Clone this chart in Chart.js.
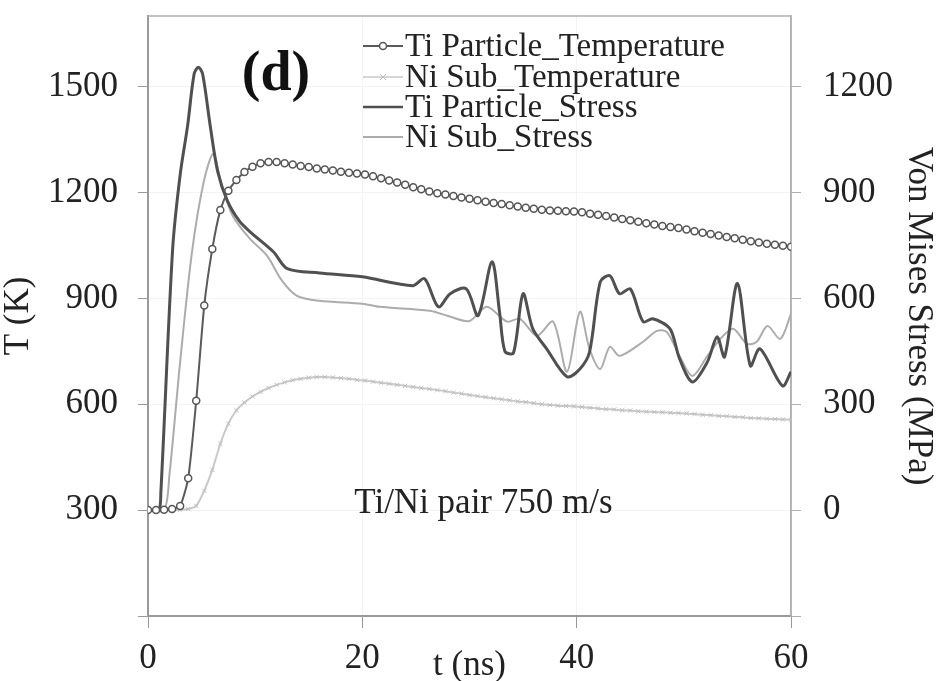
<!DOCTYPE html>
<html><head><meta charset="utf-8">
<script src="https://cdn.jsdelivr.net/npm/chart.js@4.4.1/dist/chart.umd.min.js"></script>
<style>html,body{margin:0;padding:0;background:#fff}#wrap{width:938px;height:681px}</style>
</head><body><div id="wrap"><canvas id="c" width="938" height="681"></canvas></div>
<script>
// ---- data ----
const tempT = [0,0.75,1.5,2.25,3,3.75,4.5,5.25,6,6.75,7.5,8.25,9,9.75,10.5,11.25,12,12.75,13.5,14.25,15,15.75,16.5,17.25,18,18.75,19.5,20.25,21,21.75,22.5,23.25,24,24.75,25.5,26.25,27,27.75,28.5,29.25,30,30.75,31.5,32.25,33,33.75,34.5,35.25,36,36.75,37.5,38.25,39,39.75,40.5,41.25,42,42.75,43.5,44.25,45,45.75,46.5,47.25,48,48.75,49.5,50.25,51,51.75,52.5,53.25,54,54.75,55.5,56.25,57,57.75,58.5,59.25,60];
const tiTemp = [300,300,301,303,312,390,610,880,1040,1150,1205,1235,1258,1273,1283,1286,1286,1283,1279,1275,1272,1268,1265,1262,1259,1256,1254,1251,1246,1240,1234,1228,1222,1215,1209,1203,1198,1194,1190,1186,1182,1178,1174,1170,1167,1164,1160,1157,1154,1151,1149,1148,1147,1146,1144,1140,1137,1133,1129,1125,1121,1117,1113,1109,1105,1102,1099,1095,1090,1086,1082,1078,1074,1070,1066,1062,1058,1055,1052,1049,1046];
const niTemp = [300,300,300,300,301,303,312,355,414,488,545,583,605,622,635,646,655,662,668,672,675,677,677,676,674,672,669,667,664,661,658,655,652,649,646,643,640,637,633,630,626,623,620,617,614,611,608,606,603,600,598,596,595,594,592,590,588,586,585,583,582,580,579,578,577,576,575,574,572,570,569,567,566,564,563,561,560,559,558,557,556];
const tiStressT = [0,1,1.2,2.3,3.0,3.7,4.3,4.7,5.1,5.8,6.5,7.4,8.5,9.5,11.7,13,16,20,24.7,25.8,27.1,28.2,29.7,30.8,32.1,32.8,33.3,34.1,35,35.9,37.2,39.1,40.3,41.2,42.2,43.1,44,45,46.2,47.1,48.7,49.6,50.8,52.2,53.1,53.8,55,56.2,57.1,59.2,60];
const tiStress  = [0,0,50,740,950,1090,1235,1255,1235,1090,960,877,820,789,732,684,672,661,636,656,576,613,627,551,704,562,450,445,613,514,457,378,400,448,647,664,613,627,534,542,514,429,363,420,491,434,642,409,457,352,392];
const niStressT = [0,1.5,2,3,4.1,5.2,6.1,6.8,7.9,9.5,11.1,12.5,13.9,16,20,21.6,26.3,28,30,31.6,33.5,34.7,36.3,37.8,39.1,40.3,41.2,42.2,43.1,44,46.2,47.5,48.4,49.6,50.8,52.2,53.4,54.6,55.9,56.8,57.8,59,60];
const niStress  = [0,0,100,420,730,930,1010,930,834,769,721,650,607,593,585,576,565,550,536,576,534,542,494,534,392,562,457,400,463,437,477,508,505,437,380,437,485,514,471,477,522,485,556];
const seriesNames = ['Ti Particle_Temperature','Ni Sub_Temperature','Ti Particle_Stress','Ni Sub_Stress'];
const xTicks = [0,20,40,60];
const leftTicks = [0,300,600,900,1200,1500];
const rightTicks = [-300,0,300,600,900,1200];
const panelLabel = '(d)';
const noteText = 'Ti/Ni pair 750 m/s';

const pts = (xs, ys) => xs.map((x, i) => ({x: x, y: ys[i]}));
const FONT = 'Liberation Serif';
const txt = '#222';
const noPad = s => { s.paddingTop = 0; s.paddingBottom = 0; s.paddingLeft = 0; s.paddingRight = 0; };

const framePlugin = {
  id: 'frame',
  beforeDatasetsDraw(chart) {
    const {ctx, chartArea: a} = chart;
    ctx.save();
    ctx.strokeStyle = '#b0b0b0';
    ctx.lineWidth = 1.5;
    ctx.beginPath();
    ctx.moveTo(a.left, a.top); ctx.lineTo(a.right, a.top); ctx.lineTo(a.right, a.bottom);
    ctx.stroke();
    ctx.restore();
  },
  afterDraw(chart) {
    const {ctx} = chart;
    const xs = chart.scales.x, yl = chart.scales.y;
    ctx.save();
    ctx.fillStyle = '#111';
    ctx.font = 'bold 56px "' + FONT + '"';
    ctx.textAlign = 'center'; ctx.textBaseline = 'middle';
    ctx.fillText(panelLabel, 276, 76);
    ctx.font = '35px "' + FONT + '"';
    ctx.fillStyle = txt;
    ctx.fillText(noteText, xs.getPixelForValue(31.3), yl.getPixelForValue(318));
    ctx.textAlign = 'left';
    const rows = [46, 77, 107, 137];
    chart.data.datasets.forEach((ds, i) => {
      const y = rows[i];
      ctx.strokeStyle = ds.borderColor;
      ctx.lineWidth = ds.legendWidth;
      ctx.beginPath(); ctx.moveTo(363, y); ctx.lineTo(403, y); ctx.stroke();
      if (ds.pointStyle === 'circle') {
        ctx.fillStyle = '#fff'; ctx.strokeStyle = ds.pointBorderColor; ctx.lineWidth = 1.5;
        ctx.beginPath(); ctx.arc(383, y, 3.5, 0, Math.PI * 2); ctx.fill(); ctx.stroke();
      } else if (ds.pointStyle === 'crossRot') {
        ctx.strokeStyle = ds.pointBorderColor; ctx.lineWidth = 1;
        ctx.beginPath(); ctx.moveTo(380, y-3); ctx.lineTo(386, y+3); ctx.moveTo(386, y-3); ctx.lineTo(380, y+3); ctx.stroke();
      }
      ctx.fillStyle = txt;
      ctx.font = '33px "' + FONT + '"';
      ctx.fillText(ds.label, 405, y + 1);
    });
    ctx.restore();
  }
};

new Chart(document.getElementById('c'), {
  type: 'line',
  data: {
    datasets: [
      { label: seriesNames[0], data: pts(tempT, tiTemp), yAxisID: 'y', borderColor: '#5a5a5a', borderWidth: 2, legendWidth: 2,
        pointStyle: 'circle', pointRadius: 3.5, pointBackgroundColor: '#fff', pointBorderColor: '#555', pointBorderWidth: 1.5, tension: 0.2 },
      { label: seriesNames[1], data: pts(tempT, niTemp), yAxisID: 'y', borderColor: '#c8c8c8', borderWidth: 2, legendWidth: 1.5,
        pointStyle: 'crossRot', pointRadius: 3, pointBorderColor: '#bdbdbd', pointBorderWidth: 1, tension: 0.2 },
      { label: seriesNames[2], data: pts(tiStressT, tiStress), yAxisID: 'y2', borderColor: '#505050', borderWidth: 3, legendWidth: 2.5,
        pointRadius: 0, tension: 0.3 },
      { label: seriesNames[3], data: pts(niStressT, niStress), yAxisID: 'y2', borderColor: '#acacac', borderWidth: 2, legendWidth: 2,
        pointRadius: 0, tension: 0.3 }
    ]
  },
  options: {
    responsive: false, animation: false,
    layout: { padding: { left: 0, right: 0, top: 16, bottom: 0 } },
    plugins: { legend: { display: false }, tooltip: { enabled: false } },
    scales: {
      x: {
        type: 'linear', min: 0, max: 60,
        afterBuildTicks: s => { s.ticks = xTicks.map(v => ({value: v})); },
        afterFit: s => { s.height = 65; noPad(s); },
        border: { color: '#9a9a9a', width: 2 },
        grid: { color: '#f3f3f3', tickColor: '#9a9a9a', tickLength: 12, lineWidth: 1 },
        ticks: { color: txt, font: { family: FONT, size: 35 }, padding: 10, maxRotation: 0 },
        title: { display: true, text: 't (ns)', color: txt, font: { family: FONT, size: 35 }, padding: { top: 0, bottom: -6 } }
      },
      y: {
        position: 'left', min: 0, max: 1700,
        afterBuildTicks: s => { s.ticks = leftTicks.map(v => ({value: v})); },
        afterFit: s => { s.width = 148; noPad(s); },
        border: { color: '#9a9a9a', width: 2 },
        grid: { color: '#f3f3f3', tickColor: '#9a9a9a', tickLength: 10, lineWidth: 1 },
        ticks: { color: txt, font: { family: FONT, size: 35 }, padding: 20, callback: v => v === 0 ? '' : String(v) },
        title: { display: true, text: 'T (K)', color: txt, font: { family: FONT, size: 35 }, padding: { top: -2, bottom: 0 } }
      },
      y2: {
        position: 'right', min: -300, max: 1400,
        afterBuildTicks: s => { s.ticks = rightTicks.map(v => ({value: v})); },
        afterFit: s => { s.width = 147; noPad(s); },
        border: { color: '#b0b0b0', width: 1.5 },
        grid: { drawOnChartArea: false, tickColor: '#b0b0b0', tickLength: 10 },
        ticks: { color: txt, font: { family: FONT, size: 35 }, padding: 22, callback: v => v === -300 ? '' : String(v) },
        title: { display: true, text: 'Von Mises Stress (MPa)', color: txt, font: { family: FONT, size: 35 }, padding: { top: -1, bottom: 0 } }
      }
    }
  },
  plugins: [framePlugin]
});
</script></body></html>
